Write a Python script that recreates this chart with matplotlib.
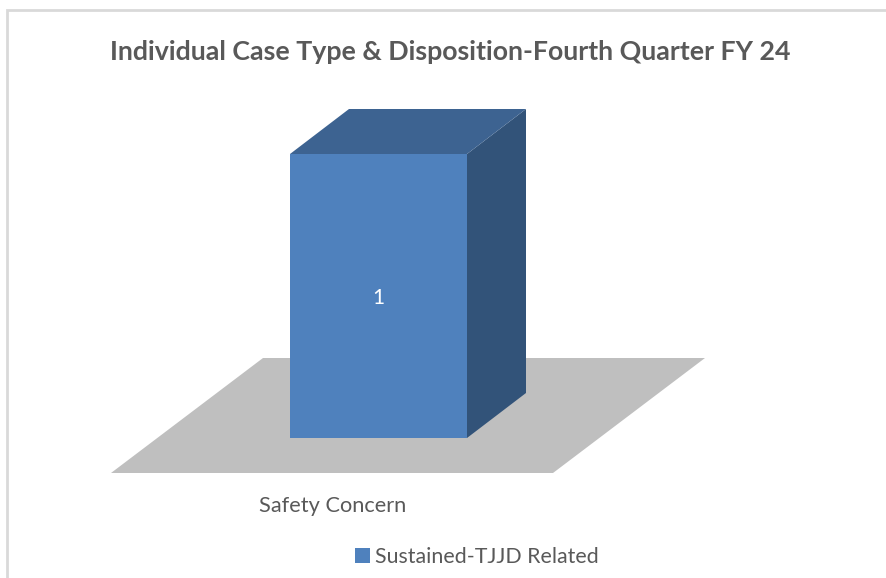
import matplotlib
matplotlib.use("Agg")
import matplotlib.pyplot as plt
from matplotlib.patches import Polygon, Rectangle

categories = ["Safety Concern"]
series_name = "Sustained-TJJD Related"
values = [1]
title = "Individual Case Type & Disposition-Fourth Quarter FY 24"

plt.rcParams['font.family'] = ['Lato', 'DejaVu Sans']

W, H = 886, 578
base_px = 438
unit_px = 284  # pixels for one case

fig = plt.figure(figsize=(W / 100, H / 100), dpi=100)
ax = fig.add_axes([0, 0, 1, 1])
ax.set_xlim(0, W)
ax.set_ylim((base_px - H) / unit_px, base_px / unit_px)
ax.axis("off")

# chart frame
ax.add_patch(Rectangle((7, (base_px - H) / unit_px - 1), W + 20, (H - 10) / unit_px + 1,
                       fc="white", ec="#d9d9d9", lw=2))

# floor
y0 = (base_px - 473) / unit_px
y1 = (base_px - 358) / unit_px
ax.add_patch(Polygon([(111, y0), (553, y0), (705, y1), (263, y1)], fc="#bfbfbf", ec="none"))

# 3d bar, front face from the value, sides offset by the depth
left, right = 290, 467
dx, dy = 59, 45 / unit_px
for cat, v in zip(categories, values):
    ax.add_patch(Polygon([(right, 0), (right + dx, dy), (right + dx, v + dy), (right, v)],
                         fc="#325379", ec="none"))
    ax.add_patch(Polygon([(left, v), (right, v), (right + dx, v + dy), (left + dx, v + dy)],
                         fc="#3d6391", ec="none"))
    bars = ax.bar((left + right) / 2, v, width=right - left, color="#4f81bd", label=series_name)
    ax.text(378, v / 2 - 2.5 / unit_px, str(v), color="white", fontsize=15, ha="center", va="center")
    ax.text(332.5, (base_px - 505.5) / unit_px, cat, color="#595959", fontsize=15.7, ha="center", va="center")

ax.text(450.5, (base_px - 52) / unit_px, title, color="#595959", fontsize=19.25, fontweight="bold",
        ha="center", va="center")

ax.legend(loc="center", bbox_to_anchor=(477 / W, 1 - 557 / H), frameon=False, fontsize=15.4,
          labelcolor="#595959", handlelength=0.68, handleheight=0.7, handletextpad=0.24)

fig.savefig("out.png", dpi=100)
